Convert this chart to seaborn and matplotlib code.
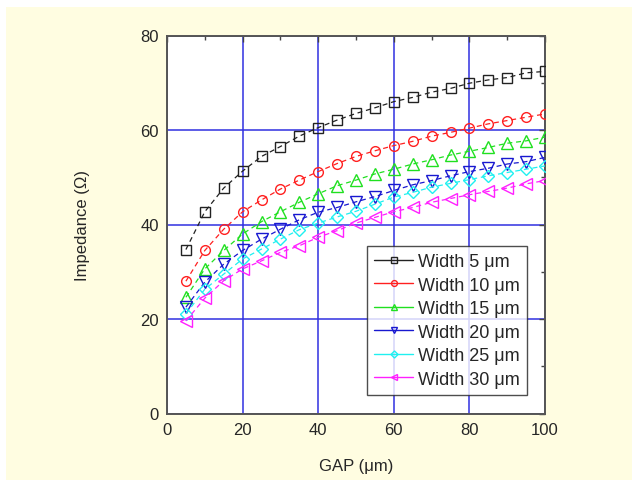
import matplotlib
matplotlib.use("Agg")
import matplotlib.pyplot as plt
import seaborn as sns
import pandas as pd
from matplotlib.patches import Rectangle
from matplotlib.ticker import MultipleLocator

sns.set_style("white")
plt.rcParams['font.family'] = ['Liberation Sans', 'DejaVu Sans']

gap = [5, 10, 15, 20, 25, 30, 35, 40, 45, 50, 55, 60, 65, 70, 75, 80, 85, 90, 95, 100]
w5 = [34.7, 42.7, 47.7, 51.3, 54.4, 56.5, 58.7, 60.5, 62.1, 63.5, 64.7, 66.0, 66.9, 68.0, 68.8, 69.9, 70.6, 71.1, 72.1, 72.4]
w10 = [28.0, 34.5, 39.0, 42.7, 45.2, 47.5, 49.4, 51.2, 52.9, 54.4, 55.6, 56.7, 57.6, 58.7, 59.5, 60.4, 61.3, 62.0, 62.7, 63.4]
w15 = [24.6, 30.6, 34.5, 38.0, 40.6, 42.7, 44.7, 46.5, 48.2, 49.4, 50.7, 51.7, 52.8, 53.7, 54.7, 55.5, 56.3, 57.2, 57.7, 58.5]
w20 = [22.5, 27.8, 31.6, 34.5, 36.9, 39.0, 41.0, 42.6, 43.6, 44.8, 45.9, 47.2, 48.4, 49.3, 50.3, 51.2, 51.9, 52.8, 53.3, 54.2]
w25 = [21.1, 26.3, 29.5, 32.7, 34.8, 36.9, 38.9, 40.3, 41.6, 42.8, 44.3, 45.8, 46.8, 47.9, 48.7, 49.5, 50.3, 51.0, 51.7, 52.4]
w30 = [19.6, 24.4, 28.1, 30.6, 32.3, 34.1, 35.5, 37.3, 38.7, 40.3, 41.5, 42.7, 43.6, 44.7, 45.5, 46.3, 47.0, 47.7, 48.6, 49.3]

labels = ["Width 5 \u03bcm", "Width 10 \u03bcm", "Width 15 \u03bcm",
          "Width 20 \u03bcm", "Width 25 \u03bcm", "Width 30 \u03bcm"]
series = [w5, w10, w15, w20, w25, w30]
colors = ["#222222", "#ff2020", "#20e020", "#1818d0", "#20f0f0", "#ff20ff"]
markers = ["s", "o", "^", "v", "D", "<"]
msizes = [6.5, 7, 8, 8, 6, 8]

fig = plt.figure(figsize=(6.32, 4.81), dpi=100)
fig.patch.set_facecolor("white")
bg = Rectangle((6 / 632, 0), 626 / 632, 473 / 481,
               transform=fig.transFigure, facecolor="#fffde1",
               edgecolor="none", zorder=-10)
fig.patches.append(bg)

ax = fig.add_axes([167 / 632, 66.5 / 481, 378 / 632, 378 / 481])
ax.set_zorder(5)
ax.set_facecolor("white")

for lab, vals, c, m, ms in zip(labels, series, colors, markers, msizes):
    df = pd.DataFrame({"gap": gap, "imp": vals})
    sns.lineplot(data=df, x="gap", y="imp", ax=ax, color=c, marker=m,
                 markersize=ms, markerfacecolor="none", markeredgecolor=c,
                 markeredgewidth=1.0, linestyle=(0, (4, 3)), linewidth=0.9,
                 label=lab, zorder=3)

ax.set_xlim(0, 100)
ax.set_ylim(0, 80)
ax.xaxis.set_major_locator(MultipleLocator(20))
ax.xaxis.set_minor_locator(MultipleLocator(10))
ax.yaxis.set_major_locator(MultipleLocator(20))
ax.yaxis.set_minor_locator(MultipleLocator(10))
ax.grid(True, which="major", color="#3030e0", linewidth=1.1)
ax.set_axisbelow(True)
ax.tick_params(which="both", direction="in", top=True, right=True,
               color="#444444", labelsize=12, pad=6)
ax.tick_params(which="major", length=4, width=1)
ax.tick_params(which="minor", length=3, width=1)
for s in ax.spines.values():
    s.set_color("#555555")
    s.set_linewidth(1.4)

ax.set_xlabel("GAP (\u03bcm)", fontsize=12)
ax.set_ylabel("Impedance (\u03a9)", fontsize=12)
ax.xaxis.set_label_coords(0.5, -0.118)
ax.yaxis.set_label_coords(-0.203, 0.5)

leg = ax.legend(loc="upper left", bbox_to_anchor=(0.529, 0.443),
                frameon=True, fancybox=False, edgecolor="#222222",
                fontsize=13, handlelength=2.15, handletextpad=0.3,
                labelspacing=0.36, borderpad=0.4, markerscale=0.6,
                borderaxespad=0)
leg.get_frame().set_linewidth(1.0)
for h in leg.legend_handles:
    h.set_linestyle("-")
    h.set_linewidth(1.0)

fig.savefig("out.png", dpi=100, facecolor=fig.get_facecolor())
